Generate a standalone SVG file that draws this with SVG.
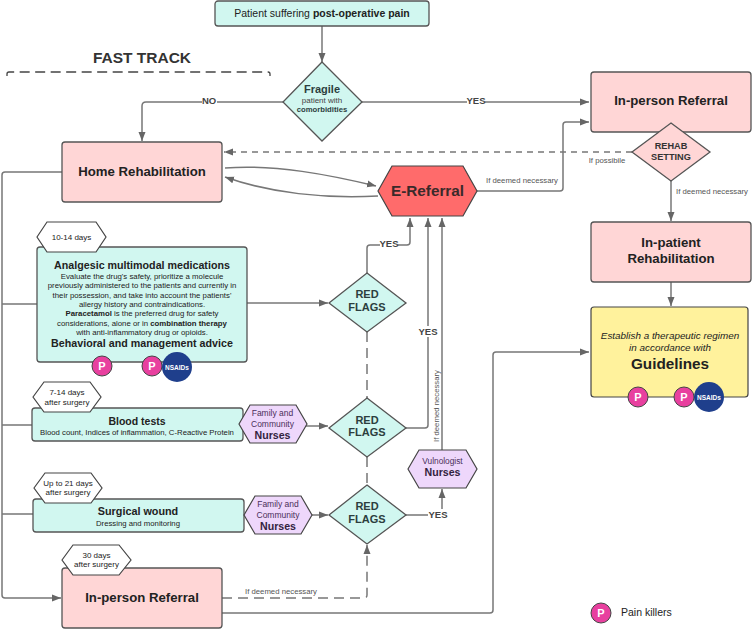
<svg xmlns="http://www.w3.org/2000/svg" width="753" height="630" viewBox="0 0 753 630">
<style>
text{font-family:"Liberation Sans",Arial,sans-serif;fill:#222;text-anchor:middle}
.l{fill:none;stroke:#777;stroke-width:1.5;stroke-linejoin:round}
.d{stroke-dasharray:10 6}
.teal{fill:#d1f7f0;stroke:#555;stroke-width:1.3}
.pink{fill:#ffd6d6;stroke:#555;stroke-width:1.3}
.lil{fill:#eed7fb;stroke:#444;stroke-width:1.2}
.hx{fill:#fff;stroke:#444;stroke-width:1.2}
.lab{font-size:7.75px;fill:#555}
.yes{font-size:9.5px;font-weight:bold;fill:#444}
.s{font-size:8px}
.b{font-weight:bold}
.rf{font-size:11px;font-weight:bold;fill:#2c3e3e}
.p{fill:#e8409f;stroke:#444;stroke-width:1}
.pt{fill:#fff;font-size:11px;font-weight:bold}
.n{fill:#1f3f8c}
.nt{fill:#fff;font-size:6.5px;font-weight:bold}
.h{font-size:8px}
</style>
<defs>
<marker id="a" markerUnits="userSpaceOnUse" markerWidth="10" markerHeight="10" refX="9" refY="5" orient="auto"><path d="M0 1.500L9 5L0 8.500Z" fill="#666"/></marker>
<g id="pc"><circle class="p" r="10"/><text class="pt" y="3.500">P</text></g>
<g id="nc"><circle class="n" r="15"/><text class="nt" y="2.500">NSAIDs</text></g>
</defs>
<g id="connectors">
<path class="l" marker-end="url(#a)" d="M322 26V62"/>
<path class="l" marker-end="url(#a)" d="M283 102H146Q142 102 142 106V141"/>
<path class="l" marker-end="url(#a)" d="M362 102H589"/>
<path class="l" marker-end="url(#a)" d="M477 191H560Q563 191 563 188V125Q563 122 566 122H589"/>
<path class="l" stroke-dasharray="6 5" marker-end="url(#a)" d="M632 152H224"/>
<path class="l" marker-end="url(#a)" d="M671 181V221"/>
<path class="l" marker-end="url(#a)" d="M671 282V306"/>
<path class="l" stroke-width="1.2" marker-end="url(#a)" d="M225 168C275 164 330 175 376 186"/>
<path class="l" stroke-width="1.2" marker-end="url(#a)" d="M378 196C325 199 270 193 225 177"/>
<path class="l" marker-end="url(#a)" d="M62 172H5Q2 172 2 175V595Q2 598 5 598H61"/>
<path class="l" d="M2 304H37M2 425H32M2 514H33"/>
<path class="l" marker-end="url(#a)" d="M247 303H328"/>
<path class="l" marker-end="url(#a)" d="M306 426H328"/>
<path class="l" marker-end="url(#a)" d="M312 515H328"/>
<path class="l" marker-end="url(#a)" d="M367 273V248Q367 245 370 245H407Q410 245 410 242V218"/>
<path class="l" marker-end="url(#a)" d="M406 428H425Q428 428 428 425V218"/>
<path class="l" marker-end="url(#a)" d="M442 450V218"/>
<path class="l" marker-end="url(#a)" d="M406 515H442V489"/>
<path class="l d" d="M367 332V398M367 457V485"/>
<path class="l d" marker-end="url(#a)" d="M222 598H364Q367 598 367 595V545"/>
<path class="l" marker-end="url(#a)" d="M222 613H490Q493 613 493 610V355Q493 352 496 352H589"/>
<path d="M7 76V74Q7 72 9 72H268Q270 72 270 74V76" fill="none" stroke="#444" stroke-width="1.3" stroke-dasharray="10 5.500"/>
</g>
<g id="connector-labels">
<rect x="202" y="96" width="15" height="10" fill="#fff"/><text x="209" y="104" class="yes">NO</text>
<rect x="467" y="96" width="18" height="10" fill="#fff"/><text x="476" y="104" class="yes">YES</text>
<text x="522" y="183" class="lab">If deemed necessary</text>
<text x="607" y="163" class="lab">If possibile</text>
<text x="712" y="194" class="lab">If deemed necessary</text>
<rect x="380" y="239" width="18" height="10" fill="#fff"/><text x="389" y="247" class="yes">YES</text>
<rect x="418" y="326" width="20" height="11" fill="#fff"/><text x="428" y="335" class="yes">YES</text>
<rect x="428" y="509" width="20" height="11" fill="#fff"/><text x="438" y="518" class="yes">YES</text>
<text x="0" y="0" class="lab" transform="translate(438.500 406) rotate(-90)">If deemed necessary</text>
<text x="281" y="594" class="lab">If deemed necessary</text>
</g>
<text x="142" y="63" font-size="15.500" font-weight="bold" style="fill:#333">FAST TRACK</text>
<g id="start"><rect class="teal" x="215" y="1" width="214" height="25" rx="3"/><text x="322" y="16.500" font-size="10.500">Patient suffering <tspan class="b">post-operative pain</tspan></text></g>
<g id="fragile"><path class="teal" d="M322 62L362 102L322 141L283 102Z"/><text x="322" y="93" font-size="11" class="b" style="fill:#2c3e3e">Fragile</text><text x="322" y="103" class="s" style="fill:#444">patient with</text><text x="322" y="112" font-size="7.700" class="b" style="fill:#2c3e3e">comorbidities</text></g>
<g id="home"><rect class="pink" x="62" y="142" width="160" height="60" rx="3"/><text x="142" y="176" font-size="13.200" class="b">Home Rehabilitation</text></g>
<g id="inperson-top"><rect class="pink" x="591" y="72" width="160" height="60" rx="3"/><text x="671" y="105" font-size="13.200" class="b">In-person Referral</text></g>
<g id="rehab"><path class="pink" d="M671 123L710 152L671 181L632 152Z"/><text x="671" y="149" font-size="9.200" class="b" style="fill:#333">REHAB</text><text x="671" y="160" font-size="9.200" class="b" style="fill:#333">SETTING</text></g>
<g id="ereferral"><path d="M378 191L392 166H463L477 191L463 216H392Z" fill="#ff6b6b" stroke="#444" stroke-width="1.2"/><text x="427.500" y="195.500" font-size="15.300" class="b" style="fill:#3a2a2a">E-Referral</text></g>
<g id="inpatient"><rect class="pink" x="591" y="222" width="160" height="60" rx="3"/><text x="671" y="247" font-size="13.200" class="b">In-patient</text><text x="671" y="263" font-size="13.200" class="b">Rehabilitation</text></g>
<g id="guidelines"><rect x="591" y="307" width="157" height="90" rx="3" fill="#fff29c" stroke="#444" stroke-width="1.2"/><text x="670" y="339" font-size="9.900" font-style="italic">Establish a therapeutic regimen</text><text x="670" y="351" font-size="9.900" font-style="italic">in accordance with</text><text x="670" y="369" font-size="15.300" class="b">Guidelines</text><use href="#pc" x="638" y="397"/><use href="#pc" x="684" y="397"/><use href="#nc" x="709" y="397"/></g>
<g id="analgesic"><rect class="teal" x="37" y="247" width="210" height="115" rx="3"/>
<text x="142" y="268.500" font-size="10.700" class="b">Analgesic multimodal medications</text>
<g font-size="7.800"><text x="142" y="279">Evaluate the drug's safety, prioritize a molecule</text><text x="142" y="288.300">previously administered to the patients and currently in</text><text x="142" y="297.700">their possession, and take into account the patients'</text><text x="142" y="307">allergy history and contraindications.</text><text x="142" y="316.300"><tspan class="b">Paracetamol</tspan> is the preferred drug for safety</text><text x="142" y="325.700">considerations, alone or in <tspan class="b">combination therapy</tspan></text><text x="142" y="335">with anti-inflammatory drug or opioids.</text></g>
<text x="142" y="346.500" font-size="10.700" class="b">Behavioral and management advice</text>
<use href="#pc" x="102" y="366"/><use href="#pc" x="152" y="366"/><use href="#nc" x="177" y="367"/></g>
<g id="days1"><path class="hx" d="M37 237L47 222H96L106 237L96 252H47Z"/><text x="71.500" y="239.500" class="h">10-14 days</text></g>
<g id="blood"><rect class="teal" x="32" y="408" width="211" height="33" rx="3"/><text x="137" y="424.500" font-size="10.500" class="b">Blood tests</text><text x="137" y="434.500" font-size="7.750">Blood count, Indices of inflammation, C-Reactive Protein</text></g>
<g id="days2"><path class="hx" d="M33 397L44 382H90L101 397L90 412H44Z"/><text x="67" y="395" class="h">7-14 days</text><text x="67" y="404.500" class="h">after surgery</text></g>
<g id="family1"><path class="lil" d="M239 424L250 405H296L307 424L296 443H250Z"/><text x="272.500" y="416" font-size="8.500" style="fill:#4a2f5a">Family and</text><text x="272.500" y="427" font-size="8.500" style="fill:#4a2f5a">Community</text><text x="272.500" y="439" font-size="10.600" class="b" style="fill:#33233f">Nurses</text></g>
<g id="surgical"><rect class="teal" x="33" y="499" width="211" height="33" rx="3"/><text x="138" y="515" font-size="10.800" class="b">Surgical wound</text><text x="138" y="525.500" font-size="7.750">Dressing and monitoring</text></g>
<g id="days3"><path class="hx" d="M34 488L45 473H91L102 488L91 503H45Z"/><text x="68" y="485.500" class="h">Up to 21 days</text><text x="68" y="494.500" class="h">after surgery</text></g>
<g id="family2"><path class="lil" d="M244 515L255 496H301L312 515L301 534H255Z"/><text x="278" y="507" font-size="8.500" style="fill:#4a2f5a">Family and</text><text x="278" y="518" font-size="8.500" style="fill:#4a2f5a">Community</text><text x="278" y="530" font-size="10.600" class="b" style="fill:#33233f">Nurses</text></g>
<g id="inperson-bottom"><rect class="pink" x="62" y="568" width="160" height="60" rx="3"/><text x="142" y="602" font-size="13.200" class="b">In-person Referral</text></g>
<g id="days4"><path class="hx" d="M62 560L73 545H119L131 560L119 575H73Z"/><text x="96.500" y="557.500" class="h">30 days</text><text x="96.500" y="567" class="h">after surgery</text></g>
<g id="redflags1"><path class="teal" d="M367 273L406 303L367 332L329 303Z"/><text x="367" y="298" class="rf">RED</text><text x="367" y="311" class="rf">FLAGS</text></g>
<g id="redflags2"><path class="teal" d="M367 398L406 428L367 457L329 428Z"/><text x="367" y="424" class="rf">RED</text><text x="367" y="436" class="rf">FLAGS</text></g>
<g id="redflags3"><path class="teal" d="M367 485L406 515L367 544L329 515Z"/><text x="367" y="510" class="rf">RED</text><text x="367" y="523" class="rf">FLAGS</text></g>
<g id="vulnologist"><path class="lil" d="M408 469L419 450H466L477 469L466 488H419Z"/><text x="442.500" y="464" font-size="8.300" style="fill:#4a2f5a">Vulnologist</text><text x="442.500" y="476" font-size="10.600" class="b" style="fill:#33233f">Nurses</text></g>
<g id="legend"><use href="#pc" x="601" y="613"/><text x="621" y="616" font-size="10.500" style="text-anchor:start">Pain killers</text></g>
</svg>
